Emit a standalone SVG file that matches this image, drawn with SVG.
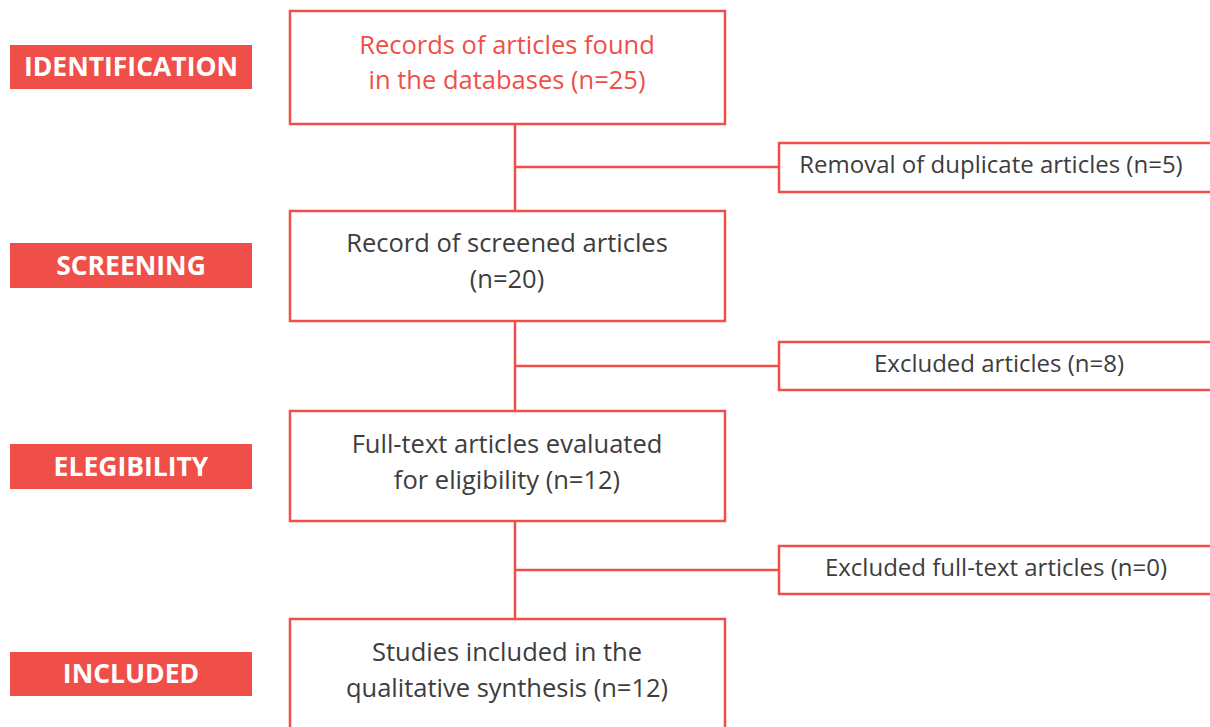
<svg xmlns="http://www.w3.org/2000/svg" width="1210" height="727" viewBox="0 0 1210 727">
<style>
.lab{fill:#ef4f48}
.labt{font-family:"Open Sans","Liberation Sans",sans-serif;font-weight:bold;font-size:26.5px;fill:#fff;text-anchor:middle}
.box{fill:#fff;stroke:#ef4f48;stroke-width:2.5}
.t{font-family:"Open Sans","Liberation Sans",sans-serif;font-size:25.5px;fill:#3d3d3d;text-anchor:middle}
.s{font-size:24px}
.tr{fill:#ef4f48}
.ln{stroke:#ef4f48;stroke-width:2.5;fill:none}
</style>
<rect width="1210" height="727" fill="#fff"/>
<g id="connectors">
<path class="ln" d="M515 124V211M515 167H779M515 321V411M515 366H779M515 521V619M515 570H779"/>
</g>
<g id="label-identification"><rect class="lab" x="10" y="45" width="242" height="44"/><text class="labt" x="131" y="76">IDENTIFICATION</text></g>
<g id="label-screening"><rect class="lab" x="10" y="243" width="242" height="45"/><text class="labt" x="131" y="275">SCREENING</text></g>
<g id="label-elegibility"><rect class="lab" x="10" y="444" width="242" height="45"/><text class="labt" x="131" y="476">ELEGIBILITY</text></g>
<g id="label-included"><rect class="lab" x="10" y="652" width="242" height="44"/><text class="labt" x="131" y="683">INCLUDED</text></g>
<g id="box-records"><rect class="box" x="290" y="11" width="435" height="113"/><text class="t tr" x="507" y="54">Records of articles found</text><text class="t tr" x="507" y="89">in the databases (n=25)</text></g>
<g id="box-screened"><rect class="box" x="290" y="211" width="435" height="110"/><text class="t" x="507" y="252">Record of screened articles</text><text class="t" x="507" y="288">(n=20)</text></g>
<g id="box-fulltext"><rect class="box" x="290" y="411" width="435" height="110"/><text class="t" x="507" y="453">Full-text articles evaluated</text><text class="t" x="507" y="489">for eligibility (n=12)</text></g>
<g id="box-included"><rect class="box" x="290" y="619" width="435" height="120"/><text class="t" x="507" y="661">Studies included in the</text><text class="t" x="507" y="697">qualitative synthesis (n=12)</text></g>
<g id="side-duplicates"><rect class="box" x="779" y="143" width="440" height="49"/><text class="t s" x="991" y="173">Removal of duplicate articles (n=5)</text></g>
<g id="side-excluded"><rect class="box" x="779" y="342" width="440" height="48"/><text class="t s" x="999" y="372">Excluded articles (n=8)</text></g>
<g id="side-excluded-full"><rect class="box" x="779" y="546" width="440" height="48"/><text class="t s" x="996" y="576">Excluded full-text articles (n=0)</text></g>
</svg>
